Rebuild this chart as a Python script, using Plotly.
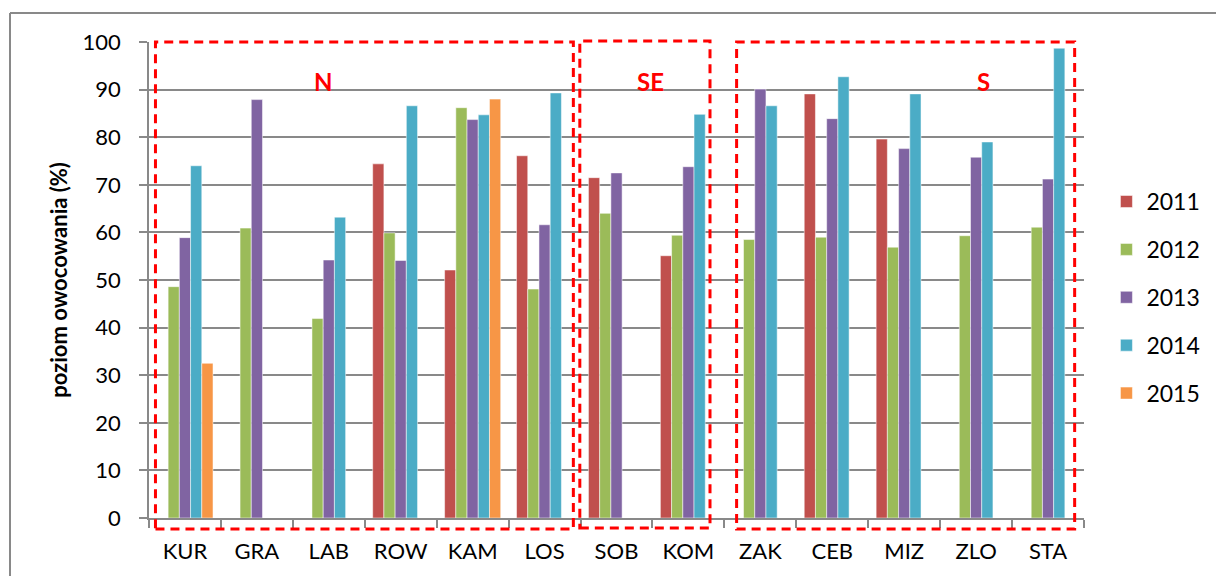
import plotly.graph_objects as go

sites = ["KUR", "GRA", "LAB", "ROW", "KAM", "LOS", "SOB", "KOM", "ZAK", "CEB", "MIZ", "ZLO", "STA"]
years = ["2011", "2012", "2013", "2014", "2015"]
colors = ["#C0504D", "#9BBB59", "#8064A2", "#4BACC6", "#F79646"]

v2011 = [None, None, None, 74.4, 52.1, 76.1, 71.5, 55.1, None, 89.1, 79.6, None, None]
v2012 = [48.6, 60.9, 41.9, 59.9, 86.2, 48.1, 64.0, 59.4, 58.5, 59.0, 56.9, 59.3, 61.1]
v2013 = [58.9, 87.9, 54.2, 54.1, 83.7, 61.6, 72.5, 73.8, 90.1, 83.9, 77.6, 75.8, 71.2]
v2014 = [74.0, None, 63.2, 86.6, 84.7, 89.3, None, 84.8, 86.6, 92.7, 89.1, 79.0, 98.7]
v2015 = [32.5, None, None, None, 88.0, None, None, None, None, None, None, None, None]
series = [v2011, v2012, v2013, v2014, v2015]

# region boxes (category-index extents) and labels
regions = ["N", "SE", "S"]
region_x0 = [-0.41, 5.49, 7.67]
region_x1 = [5.40, 7.30, 12.37]
region_label_x = [1.93, 6.47, 11.10]

FONT = "Lato, 'Open Sans', sans-serif"

fig = go.Figure()
for name, vals, col in zip(years, series, colors):
    fig.add_trace(go.Bar(
        x=sites, y=vals, name=name, legendgroup=name,
        marker=dict(color=col, line=dict(color="rgba(255,255,255,0.5)", width=1)),
    ))

L, R, T, B = 149, 132, 42, 58
W, H = 1216, 576
pw, ph = W - L - R, H - T - B

def px_x(p):
    return (p - L) / pw

def px_y(p):
    return (H - B - p) / ph

shapes = []
# outer chart border (top and left only visible)
shapes.append(dict(type="line", xref="paper", yref="paper",
                   x0=px_x(10), x1=px_x(1230), y0=px_y(13), y1=px_y(13),
                   line=dict(color="#898989", width=2)))
shapes.append(dict(type="line", xref="paper", yref="paper",
                   x0=px_x(10), x1=px_x(10), y0=px_y(13), y1=px_y(590),
                   line=dict(color="#898989", width=2)))
tops = [px_y(42), px_y(41), px_y(42)]
bots = [px_y(529), px_y(528), px_y(529)]
for x0, x1, t, b in zip(region_x0, region_x1, tops, bots):
    shapes.append(dict(type="rect", xref="x", yref="paper", x0=x0, x1=x1, y0=b, y1=t,
                       line=dict(color="#FF0000", width=3, dash="9px,6px"),
                       fillcolor="rgba(0,0,0,0)", layer="above"))

annotations = []
for lab, lx in zip(regions, region_label_x):
    annotations.append(dict(text="<b>%s</b>" % lab, x=lx, y=91.6, xref="x", yref="y",
                            showarrow=False, font=dict(color="#FF0000", size=24, family=FONT)))

fig.update_layout(
    width=W, height=H,
    margin=dict(l=L, r=R, t=T, b=B, pad=0, autoexpand=False),
    paper_bgcolor="white", plot_bgcolor="white",
    barmode="group", bargap=0.22, bargroupgap=0,
    font=dict(family=FONT, size=22, color="#000000"),
    shapes=shapes, annotations=annotations,
    legend=dict(x=1.024, y=0.71, xanchor="left", yanchor="top",
                traceorder="grouped", tracegroupgap=15,
                font=dict(size=23, family=FONT), itemwidth=30),
    showlegend=True,
)
fig.update_xaxes(
    type="category", showgrid=False, showline=True, linecolor="#898989", linewidth=1.5,
    ticks="outside", tickson="boundaries", ticklen=8, tickcolor="#898989", tickwidth=1.5,
    tickfont=dict(size=22, family=FONT), ticklabelstandoff=13, automargin=False,
)
fig.update_yaxes(
    range=[0, 100], dtick=10, showgrid=True, gridcolor="#898989", gridwidth=1.5,
    showline=True, linecolor="#898989", linewidth=1.5,
    ticks="outside", ticklen=8, tickcolor="#898989", tickwidth=1.5,
    tickfont=dict(size=22, family=FONT), ticklabelstandoff=14, zeroline=False, automargin=False,
    title=dict(text="<b>poziom owocowania (%)</b>", font=dict(size=22, family=FONT), standoff=9),
)

fig.write_html("out.html", config={"displayModeBar": False},
               post_script="document.body.style.margin='0';document.body.style.overflow='hidden';")
